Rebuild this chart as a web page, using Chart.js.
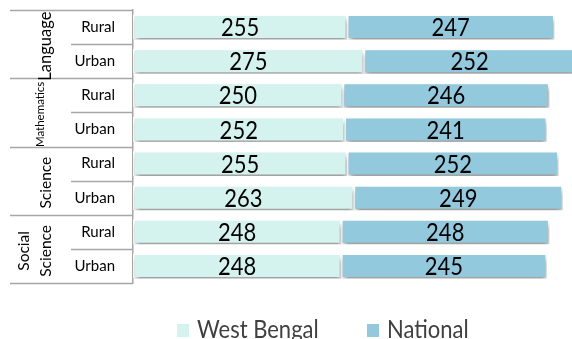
<!DOCTYPE html>
<html>
<head>
<meta charset="utf-8">
<script src="https://cdn.jsdelivr.net/npm/chart.js@4.4.1/dist/chart.umd.min.js"></script>
<style>
  html, body { margin: 0; padding: 0; background: #fff; }
  #wrap { width: 572px; height: 339px; position: relative; }
</style>
</head>
<body>
<div id="wrap"><canvas id="chart"></canvas></div>
<script>
// scores by subject, each split into rural / urban rows
const subjects = [['Language'], ['Mathematics'], ['Science'], ['Social', 'Science']];
const areas = ['Rural', 'Urban'];
const seriesNames = ['West Bengal', 'National'];
const westBengal = [255, 275, 250, 252, 255, 263, 248, 248];
const national = [247, 252, 246, 241, 252, 249, 248, 245];

const seriesColors = ['#d5f3ee', '#92c9dc'];
const subjectFontSize = [16.5, 11.5, 15.5, 15.5];
const lineColor = '#a6a6a6';
const fontFamily = 'Lato, "Noto Sans", sans-serif';

const rowLabels = subjects.flatMap(() => areas);

// soft drop shadow under the bars
const barShadow = {
	id: 'barShadow',
	beforeDatasetDraw(chart) {
		const ctx = chart.ctx;
		ctx.save();
		ctx.shadowColor = 'rgba(0, 0, 0, 0.42)';
		ctx.shadowBlur = 5;
		ctx.shadowOffsetX = 1;
		ctx.shadowOffsetY = 4;
	},
	afterDatasetDraw(chart) {
		chart.ctx.restore();
	}
};

// value printed in the middle of each segment
const valueLabels = {
	id: 'valueLabels',
	afterDatasetsDraw(chart) {
		const ctx = chart.ctx;
		ctx.save();
		ctx.font = '22px ' + fontFamily;
		ctx.fillStyle = '#000';
		ctx.textAlign = 'center';
		ctx.textBaseline = 'middle';
		chart.data.datasets.forEach((ds, di) => {
			chart.getDatasetMeta(di).data.forEach((bar, i) => {
				const p = bar.getProps(['x', 'y', 'base'], true);
				ctx.save();
				ctx.translate((p.x + p.base) / 2, p.y + 1);
				ctx.scale(1, 1.15);
				ctx.fillText(String(ds.data[i]), 0, 0);
				ctx.restore();
			});
		});
		ctx.restore();
	}
};

// row separators and rotated subject names left of the axis
const sidePanel = {
	id: 'sidePanel',
	afterDraw(chart) {
		const ctx = chart.ctx;
		const y = chart.scales.y;
		const step = y.getPixelForValue(1) - y.getPixelForValue(0);
		const edge = i => y.getPixelForValue(i) - step / 2;

		ctx.save();
		ctx.strokeStyle = lineColor;
		ctx.lineWidth = 1.5;
		for (let i = 0; i <= rowLabels.length; i++) {
			const yy = Math.round(edge(i)) + 0.5;
			ctx.beginPath();
			ctx.moveTo(i % areas.length === 0 ? 10 : 71, yy);
			ctx.lineTo(y.right, yy);
			ctx.stroke();
		}

		ctx.fillStyle = '#000';
		ctx.textAlign = 'center';
		ctx.textBaseline = 'middle';
		subjects.forEach((lines, g) => {
			const mid = (edge(g * areas.length) + edge((g + 1) * areas.length)) / 2;
			ctx.font = subjectFontSize[g] + 'px ' + fontFamily;
			lines.forEach((text, k) => {
				const x = (g === 1 ? 40 : 46) - 22 * (lines.length - 1 - k);
				ctx.save();
				ctx.translate(x, mid + 2);
				ctx.rotate(-Math.PI / 2);
				ctx.fillText(text, 0, 0);
				ctx.restore();
			});
		});
		ctx.restore();
	}
};

// legend row under the chart
const bottomLegend = {
	id: 'bottomLegend',
	afterDraw(chart) {
		const ctx = chart.ctx;
		const starts = [177, 367];
		ctx.save();
		ctx.font = '22px ' + fontFamily;
		ctx.textBaseline = 'middle';
		chart.data.datasets.forEach((ds, i) => {
			ctx.fillStyle = ds.backgroundColor;
			ctx.fillRect(starts[i], 324, 12, 13);
			ctx.fillStyle = '#404040';
			ctx.save();
			ctx.translate(starts[i] + 20, 330);
			ctx.scale(1, 1.1);
			ctx.fillText(ds.label, 0, 0);
			ctx.restore();
		});
		ctx.restore();
	}
};

new Chart(document.getElementById('chart'), {
	type: 'bar',
	data: {
		labels: rowLabels,
		datasets: [
			{ label: seriesNames[0], data: westBengal, backgroundColor: seriesColors[0] },
			{ label: seriesNames[1], data: national, backgroundColor: seriesColors[1] }
		]
	},
	options: {
		indexAxis: 'y',
		responsive: true,
		maintainAspectRatio: false,
		animation: false,
		layout: { padding: { top: 10, bottom: 56, left: 0, right: 0 } },
		datasets: {
			bar: {
				barPercentage: 0.73,
				categoryPercentage: 1,
				borderColor: '#ffffff',
				borderWidth: 1.5,
				borderSkipped: false
			}
		},
		scales: {
			x: {
				stacked: true,
				display: false,
				min: 0,
				max: 523
			},
			y: {
				stacked: true,
				afterFit(scale) {
					scale.width = 133;
					// label padding should not push the plot area down
					scale.paddingTop = 0;
					scale.paddingBottom = 0;
				},
				border: { color: lineColor, width: 1.5 },
				grid: { display: false, drawTicks: false },
				ticks: {
					padding: 18,
					color: '#000',
					font: { family: fontFamily, size: 15 }
				}
			}
		},
		plugins: {
			legend: { display: false },
			tooltip: { enabled: false }
		}
	},
	plugins: [barShadow, valueLabels, sidePanel, bottomLegend]
});
</script>
</body>
</html>
